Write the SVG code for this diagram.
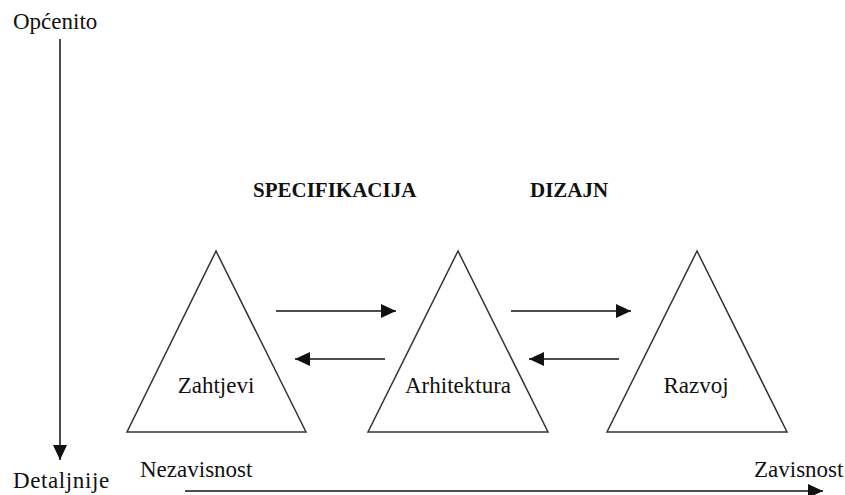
<svg xmlns="http://www.w3.org/2000/svg" width="845" height="495" viewBox="0 0 845 495">
<style>
.tri{fill:none;stroke:#333;stroke-width:1.5}
.ln{stroke:#111;stroke-width:1.5;fill:none}
.t{font-family:"Liberation Serif","Times New Roman",serif;font-size:23px;fill:#111}
.b{font-family:"Liberation Serif","Times New Roman",serif;font-size:21px;font-weight:bold;fill:#111}
</style>
<defs>
<marker id="ah" markerUnits="userSpaceOnUse" markerWidth="16" markerHeight="14" refX="15" refY="7" orient="auto">
<path d="M0,0 L15,7 L0,14 Z" fill="#111"/>
</marker>
</defs>
<g id="axes">
<text class="t" x="13" y="29">Općenito</text>
<text class="t" x="13" y="488" letter-spacing="0.6">Detaljnije</text>
<text class="t" x="140" y="477">Nezavisnost</text>
<text class="t" x="754" y="477">Zavisnost</text>
</g>
<g id="labels">
<text class="b" x="253" y="197">SPECIFIKACIJA</text>
<text class="b" x="530" y="197">DIZAJN</text>
</g>
<g id="zahtjevi">
<polygon class="tri" points="216,251 127,432 306,432"/>
<text class="t" x="216" y="393" text-anchor="middle">Zahtjevi</text>
</g>
<g id="arhitektura">
<polygon class="tri" points="458,251 368,432 548,432"/>
<text class="t" x="458" y="393" text-anchor="middle">Arhitektura</text>
</g>
<g id="razvoj">
<polygon class="tri" points="697,251 607,432 787,432"/>
<text class="t" x="696" y="393" text-anchor="middle">Razvoj</text>
</g>
<g id="connectors">
<line class="ln" x1="60" y1="39" x2="60" y2="460" marker-end="url(#ah)"/>
<line class="ln" x1="185" y1="491" x2="823" y2="491" marker-end="url(#ah)"/>
<line class="ln" x1="276" y1="311" x2="396" y2="311" marker-end="url(#ah)"/>
<line class="ln" x1="385" y1="359" x2="295" y2="359" marker-end="url(#ah)"/>
<line class="ln" x1="511" y1="311" x2="631" y2="311" marker-end="url(#ah)"/>
<line class="ln" x1="619" y1="359" x2="529" y2="359" marker-end="url(#ah)"/>
</g>
</svg>
